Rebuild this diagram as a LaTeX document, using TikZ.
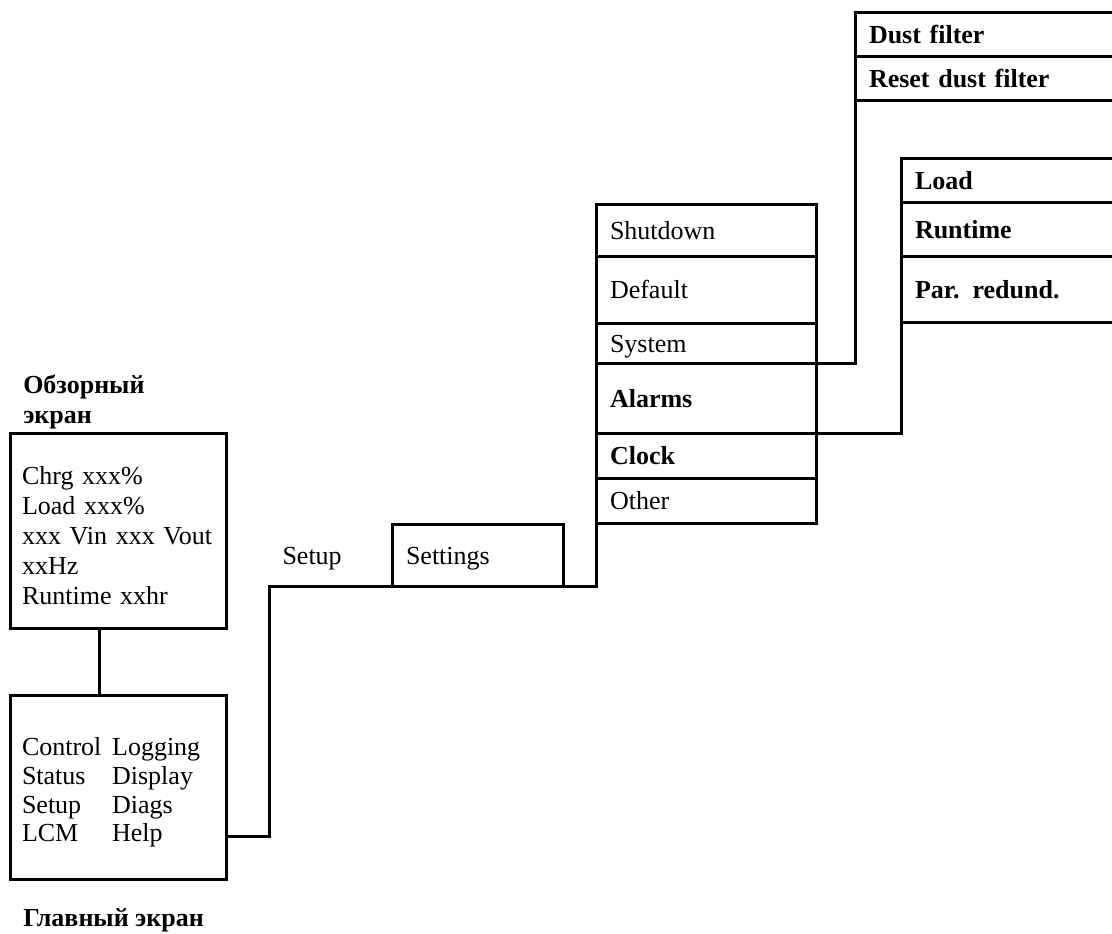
\documentclass[tikz,border=0pt]{standalone}
\usepackage{fontspec}
\setmainfont{Liberation Serif}
\usetikzlibrary{positioning}
\newcommand{\dfont}{\fontsize{19.5}{22.5}\selectfont}
\tikzset{
	scrbox/.style={draw,line width=2.25pt,outer sep=0pt,inner xsep=9pt,text width=144pt,align=left,anchor=north west},
	menucell/.style={draw,line width=2.25pt,outer sep=0pt,inner xsep=10.5pt,inner ysep=2pt,text width=#1,align=left,text height=16pt,text depth=2pt,anchor=north west},
	menucell/.default=144pt,
	head/.style={inner sep=0pt,align=left,font=\dfont\bfseries},
	link/.style={line width=2.25pt}
}
\begin{document}
\begin{tikzpicture}[x=0.75pt,y=-0.75pt,font=\dfont]
	\useasboundingbox (0,0) rectangle (1112,933);
	\clip (0,0) rectangle (1112,933);
	\node[scrbox,minimum height=146.25pt] (ovw) at (10,433) {\rule{0pt}{21pt}Chrg xxx\%\\Load xxx\%\\xxx Vin xxx Vout\\xxHz\\Runtime xxhr};
	\node[scrbox,minimum height=138pt,font=\fontsize{19.5}{21.4}\selectfont,below=50.25pt of ovw] (main) {\begin{tabular}{@{}l@{\hspace{8pt}}l@{}}\rule{0pt}{24pt}Control&Logging\\Status&Display\\Setup&Diags\\LCM&Help\end{tabular}};
	\node[head,anchor=south west] (ovwttl) at ([xshift=9.75pt,yshift=3pt]ovw.north west) {Обзорный\\экран};
	\node[head,anchor=west] (mainttl) at ([xshift=9.75pt,yshift=-31pt]main.south west) {Главный экран};
	\node[menucell=107.25pt,minimum height=46.5pt] (set) at (392,524) {Settings};
	\node[inner sep=0pt,text height=16pt,text depth=2pt,left=37.5pt of set] (stplbl) {Setup};
	\node[menucell,minimum height=39pt] (shd) at (596,204) {Shutdown};
	\node[menucell,minimum height=50.25pt,below=0pt of shd] (dflt) {Default};
	\node[menucell,minimum height=30pt,below=0pt of dflt] (sys) {System};
	\node[menucell,minimum height=52.5pt,below=0pt of sys] (alm) {\textbf{Alarms}};
	\node[menucell,minimum height=33.75pt,below=0pt of alm] (clk) {\textbf{Clock}};
	\node[menucell,minimum height=33.75pt,below=0pt of clk] (oth) {Other};
	\node[menucell=204pt,minimum height=33pt] (dust) at (855,12) {\textbf{Dust filter}};
	\node[menucell=204pt,minimum height=33pt,below=0pt of dust] (rst) {\textbf{Reset dust filter}};
	\node[menucell=204pt,minimum height=33pt] (ld) at (901,158) {\textbf{Load}};
	\node[menucell=204pt,minimum height=40.5pt,below=0pt of ld] (rtm) {\textbf{Runtime}};
	\node[menucell=204pt,minimum height=49.5pt,below=0pt of rtm] (par) {\textbf{Par. redund.}};
	\coordinate (kink) at (269,586);
	\draw[link] ([xshift=-14.25pt]ovw.south) -- ([xshift=-14.25pt]main.north);
	\draw[link] ([yshift=-36.75pt]main.east) -| (kink) -- (kink -| oth.south west) -- (oth.south west);
	\draw[link] (sys.south east) -| (rst.south west);
	\draw[link] (alm.south east) -| (par.south west);
\end{tikzpicture}
\end{document}
